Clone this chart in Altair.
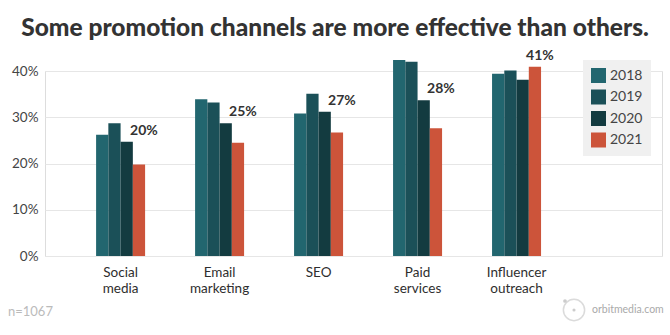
import altair as alt
import pandas as pd

categories = ["Social media", "Email marketing", "SEO", "Paid services", "Influencer outreach"]
years = ["2018", "2019", "2020", "2021"]
v2018 = [26.2, 33.9, 30.8, 42.4, 39.4]
v2019 = [28.7, 33.2, 35.1, 42.0, 40.1]
v2020 = [24.7, 28.7, 31.2, 33.7, 38.1]
v2021 = [19.8, 24.5, 26.7, 27.6, 40.9]
labels_2021 = ["20%", "25%", "27%", "28%", "41%"]
colors = ["#22666f", "#1b5058", "#133b40", "#cc543a"]
y_ticks = [0, 0.1, 0.2, 0.3, 0.4]

FONT = "Lato"

rows = []
for yr, vals in zip(years, [v2018, v2019, v2020, v2021]):
    for c, v in zip(categories, vals):
        rows.append({"category": c, "year": yr, "value": v / 100})
df = pd.DataFrame(rows)

lab = pd.DataFrame({
    "category": categories,
    "year": ["2021"] * len(categories),
    "pos": [max(a, b) / 100 for a, b in zip(v2020, v2021)],
    "text": labels_2021,
})

x_enc = alt.X(
    "category:N",
    sort=categories,
    scale=alt.Scale(domain=categories, paddingInner=0.505, paddingOuter=0.869, align=0.297),
    axis=alt.Axis(
        title=None, domain=False, ticks=False, labelAngle=0,
        labelExpr="split(datum.label, ' ')", labelFontSize=13.5,
        labelColor="#2e2e2e", labelPadding=9, labelLineHeight=16,
        labelFont=FONT,
    ),
)
xoff_enc = alt.XOffset("year:N", scale=alt.Scale(domain=years, paddingInner=0, paddingOuter=0))
y_enc = alt.Y(
    "value:Q",
    scale=alt.Scale(domain=[0, 0.4], nice=False),
    axis=alt.Axis(
        title=None, domain=False, ticks=False, values=y_ticks, format=".0%",
        labelFontSize=13.5, labelColor="#444444", labelPadding=7,
        gridColor="#e6e6e6", labelFont=FONT,
    ),
)

bars = alt.Chart(df).mark_bar().encode(
    x=x_enc,
    xOffset=xoff_enc,
    y=y_enc,
    color=alt.Color(
        "year:N",
        scale=alt.Scale(domain=years, range=colors),
        legend=alt.Legend(
            title=None, orient="none", legendX=538, legendY=-11,
            fillColor="#f0f0f0", padding=8, symbolType="square",
            symbolSize=225, symbolStrokeWidth=0, labelFontSize=14,
            labelColor="#444444", labelOffset=4, rowPadding=6.5,
            labelFont=FONT,
        ),
    ),
)

texts = alt.Chart(lab).mark_text(
    font=FONT, fontSize=14, fontWeight="bold", color="#333333",
    baseline="middle", dy=-11, dx=5,
).encode(
    x=alt.X("category:N", sort=categories),
    xOffset=alt.XOffset("year:N"),
    y=alt.Y("pos:Q"),
    text="text:N",
)

one = pd.DataFrame({"k": [0]})
title = alt.Chart(one).mark_text(
    text="Some promotion channels are more effective than others.",
    font=FONT, fontSize=24.5, fontWeight=900, color="#333333",
    align="center", baseline="middle",
).encode(x=alt.value(290), y=alt.value(-42))

n_text = alt.Chart(one).mark_text(
    text="n=1067", font=FONT, fontSize=13, color="#bbbbbb",
    align="left", baseline="middle",
).encode(x=alt.value(-37), y=alt.value(241))

ring = alt.Chart(one).mark_point(
    shape="circle", filled=False, stroke="#cccccc", strokeWidth=1.5, size=452,
).encode(x=alt.value(529), y=alt.value(239))
dot = alt.Chart(one).mark_point(
    shape="circle", filled=True, color="#cccccc", size=10, opacity=1,
).encode(x=alt.value(529), y=alt.value(239))
moon = alt.Chart(one).mark_point(
    shape="circle", filled=True, color="#cccccc", size=14, opacity=1,
).encode(x=alt.value(520), y=alt.value(230))
brand = alt.Chart(one).mark_text(
    text="orbitmedia.com", font=FONT, fontSize=10.5, color="#aaaaaa",
    align="left", baseline="middle",
).encode(x=alt.value(547), y=alt.value(239))

chart = alt.layer(bars, texts, title, n_text, ring, dot, moon, brand).properties(
    width=617,
    height=185,
    autosize=alt.AutoSizeParams(type="none"),
    padding={"left": 45, "top": 71, "right": 8, "bottom": 79},
).configure_view(stroke=None).configure(background="white")

chart.save("out.html", embed_options={"renderer": "svg", "actions": False})
